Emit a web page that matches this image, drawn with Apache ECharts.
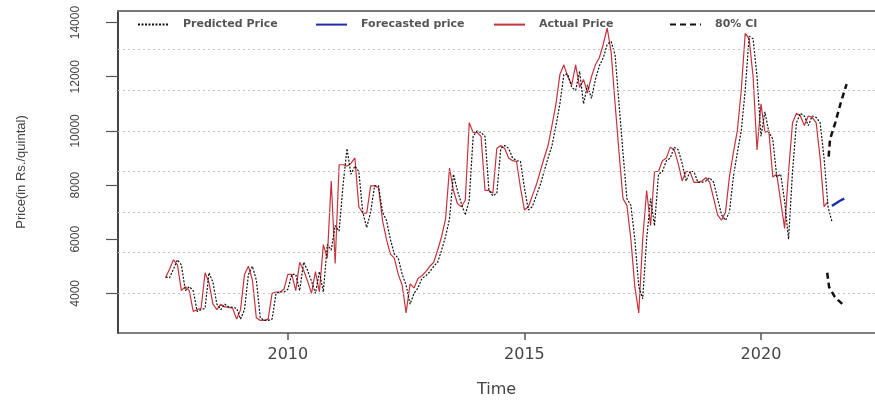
<!DOCTYPE html>
<html><head><meta charset="utf-8">
<script src="https://cdn.jsdelivr.net/npm/echarts@6/dist/echarts.min.js"></script>
<style>html,body{margin:0;padding:0;background:#fff}#c{width:875px;height:403px}</style>
</head><body><div id="c"></div>
<script>
// Monthly series start: June 2007
const startYear = 2007, startMonth = 6;

const actualPrice = [
  4580, 4900, 5240, 5050, 4100, 4250, 4100,
  3330, 3400, 3450, 4760, 4400, 3600, 3400, 3600, 3500, 3480, 3450, 3050,
  3390, 4700, 5000, 4500, 3100, 3000, 3000, 3050, 4000, 4050, 4050, 4150,
  4700, 4700, 4100, 5150, 4850, 4450, 4000, 4800, 4050, 5800, 5300, 8150,
  5100, 8750, 8750, 8700, 8800, 9000, 7200, 6960, 6960, 7970, 7970, 7900,
  6700, 6000, 5450, 5300, 4700, 4300, 3280, 4350, 4200, 4550, 4650, 4800,
  5000, 5150, 5600, 6100, 6750, 8630, 7800, 7320, 7200, 7440, 10300, 9940,
  9940, 9800, 7800, 7800, 7700, 9350, 9460, 9350, 9000, 8900, 8870, 7900,
  7080, 7200, 7600, 8000, 8500, 9000, 9460, 10200, 11000, 12080, 12440, 12000,
  11700, 12440, 11600, 11900, 11400, 12000, 12440, 12700, 13200, 13800, 12900, 11000,
  9200, 7500, 7250, 6000, 4250, 3280, 6000, 7800, 6500, 8500, 8500, 8900,
  9000, 9400, 9300, 8800, 8150, 8500, 8500, 8100, 8100, 8150, 8270, 8100,
  7500, 6900, 6700, 7000, 8300, 9200, 10000, 11500, 13600, 13400, 12000, 9300,
  11000, 9950, 10000, 8300, 8400, 7400, 6400, 8500, 10300, 10650, 10550, 10200,
  10550, 10500, 10300, 9000, 7200, 7400
];

const predictedPrice = [
  4600, 4580, 4900, 5240, 5050, 4100, 4250,
  4100, 3330, 3400, 3450, 4760, 4400, 3600, 3400, 3600, 3500, 3480, 3450,
  3050, 3390, 4700, 5000, 4500, 3100, 3000, 3000, 3050, 4000, 4050, 4050,
  4150, 4700, 4700, 4100, 5150, 4850, 4450, 4000, 4800, 4050, 5800, 5600,
  6500, 6300, 8000, 9350, 8400, 8700, 8500, 7000, 6430, 7000, 7970, 7970,
  7000, 6700, 6000, 5450, 5300, 4700, 4300, 3600, 4000, 4200, 4550, 4650,
  4800, 5000, 5150, 5600, 6100, 6750, 8400, 7800, 7320, 6900, 7440, 9800,
  10000, 9940, 9800, 7800, 7600, 7700, 9350, 9460, 9350, 9000, 8900, 8870,
  7900, 7080, 7200, 7600, 8000, 8500, 9000, 9460, 10200, 11000, 12080, 12100,
  11600, 11500, 12200, 11000, 11700, 11200, 11900, 12400, 12700, 13200, 13300, 12800,
  11000, 9200, 7500, 7250, 6000, 4250, 3800, 6000, 7500, 6500, 8400, 8500,
  8900, 9000, 9400, 9300, 8800, 8150, 8500, 8500, 8100, 8100, 8150, 8270,
  8100, 7500, 6900, 6700, 7000, 8300, 9200, 10000, 11500, 13500, 13400, 12000,
  9800, 10700, 9950, 9700, 8300, 8400, 7400, 6000, 8500, 10300, 10650, 10550,
  10200, 10550, 10500, 10300, 9000, 7200, 6650
];

const forecastTime  = [2021.50, 2021.58, 2021.67, 2021.76];
const forecastPrice = [7230, 7320, 7420, 7500];

const ciUpperTime = [2021.43, 2021.46, 2021.57, 2021.68, 2021.81];
const ciUpper     = [9050, 9700, 10300, 11000, 11730];
const ciLowerTime = [2021.40, 2021.44, 2021.56, 2021.63, 2021.78];
const ciLower     = [4760, 4230, 3870, 3750, 3510];

const yTickLabels = [4000, 6000, 8000, 10000, 12000, 14000];
const xTickLabels = [2010, 2015, 2020];
const gridLevels  = [4000, 5500, 7000, 8500, 10000, 11500, 13000];

function monthTime(i) { return startYear + (startMonth - 1 + i) / 12; }
const actualData    = actualPrice.map((v, i) => [monthTime(i), v]);
const predictedData = predictedPrice.map((v, i) => [monthTime(i), v]);
const forecastData  = forecastTime.map((t, i) => [t, forecastPrice[i]]);
const upperData     = ciUpperTime.map((t, i) => [t, ciUpper[i]]);
const lowerData     = ciLowerTime.map((t, i) => [t, ciLower[i]]);

const chart = echarts.init(document.getElementById('c'), null, { renderer: 'canvas' });
const legendText = { fontFamily: 'DejaVu Sans', fontWeight: 'bold', fontSize: 11, color: '#555', padding: [0, 0, 0, 9] };
function leg(name, left) {
  return {
    data: [name], left: left, top: 14, itemWidth: 31, itemHeight: 14,
    textStyle: legendText, selectedMode: false,
    itemStyle: { opacity: 0 }
  };
}
const plain = v => String(v);
chart.setOption({
  animation: false,
  backgroundColor: '#fff',
  grid: { left: 118, right: 0, top: 11, bottom: 59 },
  legend: [
    leg('Predicted Price', 132),
    leg('Forecasted price', 310),
    leg('Actual Price', 488),
    leg('80% CI', 664)
  ],
  xAxis: [{
    type: 'value', min: 2006.41, max: 2022.41, position: 'bottom',
    splitLine: { show: false },
    axisLine: { show: true, onZero: false, lineStyle: { color: '#555', width: 1.5 } },
    axisTick: { show: true, length: 7, customValues: xTickLabels, lineStyle: { color: '#555', width: 1.5 } },
    axisLabel: { customValues: xTickLabels, formatter: plain, margin: 14, fontFamily: 'DejaVu Sans', fontSize: 16, color: '#444' },
    name: 'Time', nameLocation: 'middle', nameGap: 49,
    nameTextStyle: { fontFamily: 'DejaVu Sans', fontSize: 16, color: '#444' }
  }, {
    type: 'value', min: 2006.41, max: 2022.41, position: 'top',
    splitLine: { show: false }, axisTick: { show: false }, axisLabel: { show: false },
    axisLine: { show: true, onZero: false, lineStyle: { color: '#777', width: 2 } }
  }],
  yAxis: {
    type: 'value', min: 2536, max: 14428,
    splitLine: { show: false },
    axisLine: { show: true, onZero: false, lineStyle: { color: '#444', width: 2 } },
    axisTick: { show: true, length: 12, customValues: yTickLabels, lineStyle: { color: '#555', width: 1.2 } },
    axisLabel: { customValues: yTickLabels, formatter: plain, rotate: 90, margin: 36, fontFamily: 'Liberation Sans', fontSize: 12, color: '#444' },
    name: 'Price(in Rs./quintal)', nameLocation: 'middle', nameGap: 90, nameRotate: 90,
    nameTextStyle: { fontFamily: 'Liberation Sans', fontSize: 13, color: '#444' }
  },
  series: [
    {
      name: 'Actual Price', type: 'line', data: actualData, showSymbol: false, symbol: 'none',
      lineStyle: { color: '#c8323c', width: 1.2 }, itemStyle: { color: '#c8323c' }, z: 3,
      markLine: {
        silent: true, symbol: 'none', label: { show: false },
        lineStyle: { color: '#c4c4c4', type: [2, 3], width: 1 },
        data: gridLevels.map(v => ({ yAxis: v }))
      }
    },
    {
      name: 'Predicted Price', type: 'line', data: predictedData, showSymbol: false, symbol: 'none',
      lineStyle: { color: '#111', width: 1.2, type: [2, 1.5] }, itemStyle: { color: '#111' }, z: 4
    },
    {
      name: 'Forecasted price', type: 'line', data: forecastData, showSymbol: false, symbol: 'none',
      lineStyle: { color: '#1f2fa8', width: 2.5 }, itemStyle: { color: '#111' }, z: 5
    },
    {
      name: '80% CI', type: 'line', data: upperData, showSymbol: false, symbol: 'none',
      lineStyle: { color: '#111', width: 2.5, type: [6, 4] }, itemStyle: { color: '#111' }, z: 5
    },
    {
      name: '80% CI', type: 'line', data: lowerData, showSymbol: false, symbol: 'none',
      lineStyle: { color: '#111', width: 2.5, type: [6, 4] }, itemStyle: { color: '#111' }, z: 5
    }
  ]
});
</script></body></html>
